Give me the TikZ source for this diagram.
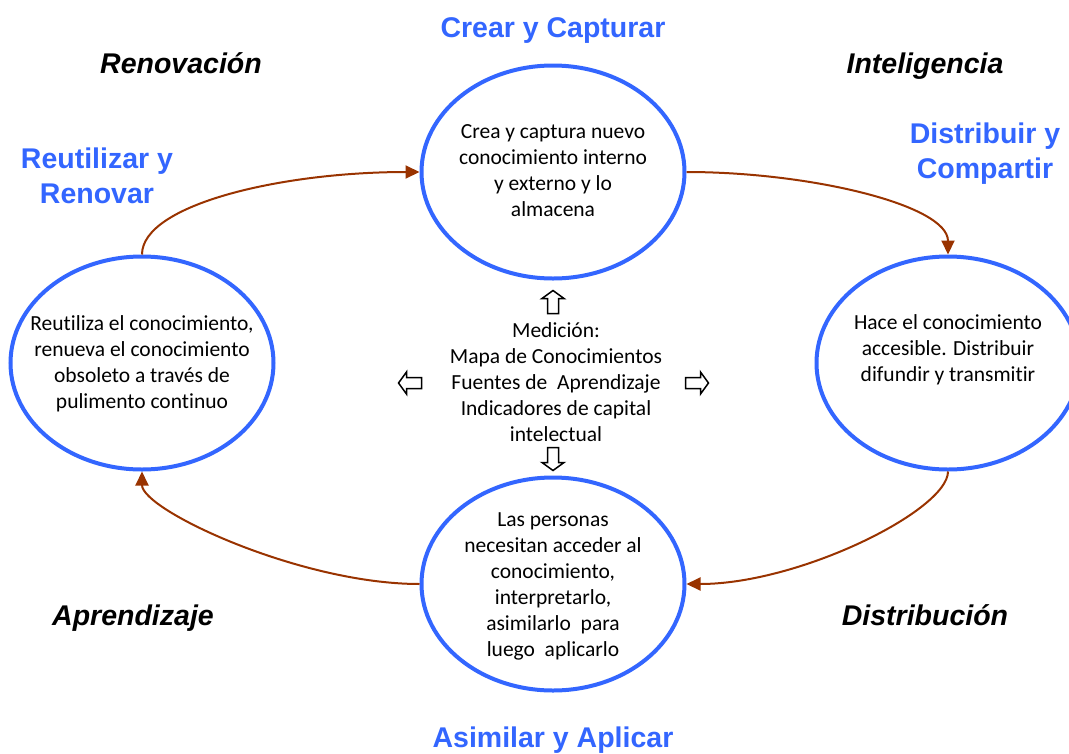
\documentclass[tikz,border=0pt]{standalone}
\usepackage{fontspec}
\setmainfont[RawFeature={-liga}]{Carlito}
\newfontfamily\headfont{Liberation Sans}
\usetikzlibrary{shapes.geometric,arrows.meta}
\definecolor{cycleblue}{RGB}{51,102,255}
\definecolor{flowbrown}{RGB}{153,51,0}
\tikzset{
  phase/.style={ellipse, draw=cycleblue, line width=4pt, minimum width=263pt,
    minimum height=213pt, inner sep=0pt, fill=white},
  body/.style={align=center, font=\fontsize{21.5}{26}\selectfont, inner sep=0pt},
  stage/.style={align=center, anchor=base, text=cycleblue,
    font=\headfont\bfseries\fontsize{28.5}{35}\selectfont, inner sep=0pt},
  area/.style={align=center, anchor=base,
    font=\headfont\bfseries\itshape\fontsize{28.5}{35}\selectfont, inner sep=0pt},
  flow/.style={draw=flowbrown, line width=2pt, -{Triangle[length=14pt,width=13pt]}},
  % outlined block arrow, pointing along the local x axis
  pics/hollow arrow/.style={code={
    \draw[line width=1.5pt, fill=white, line join=miter]
      (-11.5,-5.5) -- (3.5,-5.5) -- (3.5,-11) -- (11.5,0) -- (3.5,11)
      -- (3.5,5.5) -- (-11.5,5.5) -- cycle;
  }}
}
\begin{document}
\begin{tikzpicture}[x=1pt,y=-1pt]
\useasboundingbox (0,0) rectangle (1069,753);
\clip (0,0) rectangle (1069,753);

% the four phases of the cycle
\node[phase] (T) at (553,172) {};
\node[phase] (L) at (142,363) {};
\node[phase] (R) at (948,363) {};
\node[phase] (B) at (553,584) {};

\node[body] (tT) at (553,171) {Crea y captura nuevo\\conocimiento interno\\y externo y lo\\almacena};
\node[body] (tL) at (142,364) {Reutiliza el conocimiento,\\renueva el conocimiento\\obsoleto a través de\\pulimento continuo};
\node[body] (tR) at (948,350) {Hace el conocimiento\\accesible. Distribuir\\difundir y transmitir};
\node[body] (tB) at (553,586) {Las personas\\necesitan acceder al\\conocimiento,\\interpretarlo,\\asimilarlo~ para\\luego~ aplicarlo};

% measurement in the middle
\node[body] (M) at (556,382) {Medición:\\Mapa de Conocimientos\\Fuentes de~ Aprendizaje\\Indicadores de capital\\intelectual};
\coordinate (aU) at (553,302);
\coordinate (aD) at (553,459);
\coordinate (aL) at (410,383);
\coordinate (aR) at (697,383);
\pic[rotate=90] at (aU) {hollow arrow};
\pic[rotate=-90] at (aD) {hollow arrow};
\pic[rotate=180] at (aL) {hollow arrow};
\pic at (aR) {hollow arrow};

% cycle connectors
\draw[flow] (L.north) .. controls (142,205) and (280,172) .. (T.west);
\draw[flow] (T.east) .. controls (810,172) and (948,205) .. (R.north);
\draw[flow] (R.south) .. controls (948,510) and (800,584) .. (B.east);
\draw[flow] (B.west) .. controls (300,584) and (142,510) .. (L.south);

% stage names (base anchor sits on the last line)
\node[stage] (sT) at (553,37) {Crear y Capturar};
\node[stage] (sR) at (985,178) {Distribuir y\\Compartir};
\node[stage] (sB) at (553,747) {Asimilar y Aplicar};
\node[stage] (sL) at (97,203) {Reutilizar y\\Renovar};

% areas
\node[area] (nRen) at (181,73) {Renovación};
\node[area] (nInt) at (925,73) {Inteligencia};
\node[area] (nApr) at (133,625) {Aprendizaje};
\node[area] (nDis) at (925,625) {Distribución};
\end{tikzpicture}
\end{document}
